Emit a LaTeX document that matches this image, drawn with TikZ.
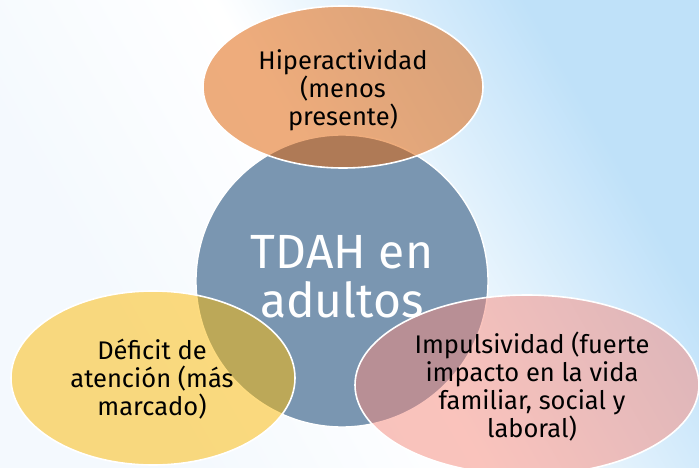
\documentclass[tikz,border=0pt]{standalone}
\usepackage{fontspec}
\setmainfont{Fira Sans}
\usetikzlibrary{shapes.geometric}
\definecolor{bgl}{HTML}{F4F9FE}
\definecolor{bgblue}{HTML}{BFE1F9}
\definecolor{cblue}{HTML}{7A96B1}
\definecolor{corange}{RGB}{224,97,4}
\definecolor{cyellow}{RGB}{253,186,3}
\definecolor{cpink}{RGB}{246,137,123}
\pgfdeclarehorizontalshading{bgsh}{100bp}{color(0bp)=(bgl); color(30bp)=(bgl); color(50bp)=(white); color(72bp)=(bgblue); color(100bp)=(bgblue)}
\tikzset{
  venn/.style={ellipse, draw=white, line width=1.6pt, inner sep=0pt},
  lbl/.style={align=center, font=\fontsize{25.5}{28}\selectfont, text=black},
  biglbl/.style={align=center, font=\fontsize{48}{49}\selectfont, text=white}
}
\begin{document}
\begin{tikzpicture}[x=1pt,y=-1pt]
\useasboundingbox (0,0) rectangle (699,468);
\shade[shading=bgsh, shading angle=30] (0,0) rectangle (699,468);
\node[circle, fill=cblue, draw=white, line width=1.4pt, inner sep=0pt, minimum size=292pt] (core) at (342,281) {};
\node[venn, fill=corange, fill opacity=0.52, minimum width=280pt, minimum height=162pt] (hyp) at (343,87) {};
\node[venn, fill=cyellow, fill opacity=0.51, minimum width=284pt, minimum height=174pt] (def) at (153,378) {};
\node[venn, fill=cpink, fill opacity=0.5, minimum width=344pt, minimum height=180pt] (imp) at (527,385) {};
\node[biglbl] (coret) at (342,277) {TDAH en\\adultos};
\node[lbl] (hypt) at (343,90) {Hiperactividad\\(menos\\presente)};
\node[lbl] (deft) at (152,379) {Déficit de\\atención (más\\marcado)};
\node[lbl] (impt) at (532,387) {Impulsividad (fuerte\\impacto en la vida\\familiar, social y\\laboral)};
\end{tikzpicture}
\end{document}
